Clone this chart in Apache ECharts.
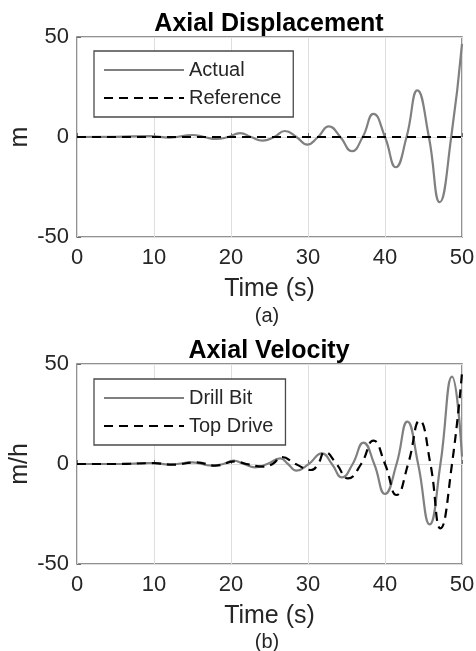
<!DOCTYPE html>
<html>
<head>
<meta charset="utf-8">
<script src="https://cdn.jsdelivr.net/npm/echarts@6/dist/echarts.min.js"></script>
<style>
  html, body { margin: 0; padding: 0; background: #fff; }
  #main { width: 476px; height: 651px; }
</style>
</head>
<body>
<div id="main"></div>
<script>
var myChart = echarts.init(document.getElementById('main'));

// (a) axial displacement
var tAct = [0, 5, 9.5, 12, 15, 16.5, 18.1, 19.6, 21.2, 22.6, 24.1, 25.6, 27.0, 28.5, 29.9, 31.3, 32.7, 34.2, 35.7, 37.1, 38.5, 40.0, 41.4, 42.8, 44.2, 45.7, 47.1, 48.6, 50];
var yAct = [0, 0.1, 0.4, -0.3, 1.0, 0, -1.0, 0, 1.9, 0, -1.8, 0, 3.0, 0, -3.8, 0, 5.3, 0, -7.1, 0, 11.6, 0, -15.1, 0, 23.3, 0, -32.6, 0, 46.6];
var tRef = [0, 50];
var yRef = [0, 0];

// (b) axial velocity
var tBit = [0, 5, 8, 10, 12, 15, 17.5, 19.0, 20.3, 21.7, 23.1, 24.7, 26.4, 27.4, 28.5, 30.1, 31.8, 33.1, 34.4, 35.8, 37.2, 38.6, 40.0, 41.5, 42.9, 44.3, 45.8, 47.2, 48.7, 50];
var yBit = [0, 0, 0.3, 0.5, -0.3, 0.8, -0.8, 0, 1.7, 0, -1.7, 0, 2.8, 0, -3.3, 0, 5.3, 0, -6.7, 0, 10.7, 0, -15.0, 0, 21.2, 0, -30.2, 0, 43.7, 3.7];
var tTop = [0, 5, 10, 12.5, 15.5, 18, 20.5, 22, 24.2, 25.4, 26.6, 28.4, 30.4, 31.3, 32.2, 33.7, 35.2, 36.9, 38.5, 40.0, 41.5, 43.0, 44.5, 45.9, 47.2, 48.7, 50];
var yTop = [0, 0, 0.4, -0.3, 0.8, -0.8, 1.3, 0, -1.3, 0, 3.5, 0, -3.0, 0, 6.0, 0, -7.2, 0, 11.7, 0, -15.5, 0, 21.7, 0, -32.2, 0, 45.5];

var xTicks = [0, 50, 10];   // min, max, interval
var yTicks = [-50, 50, 50];

function pairs(xs, ys) {
    return xs.map(function (x, i) { return [x, ys[i]]; });
}

var txt = '#262626';
var frame = '#6e6e6e';
var font = 'Liberation Sans, Arial, sans-serif';

function makeX(idx) {
    return {
        type: 'value', gridIndex: idx,
        min: xTicks[0], max: xTicks[1], interval: xTicks[2],
        name: 'Time (s)', nameLocation: 'middle', nameGap: 40, nameMoveOverlap: false,
        nameTextStyle: { fontSize: 25, color: txt, fontFamily: font },
        axisLine: { show: false },
        axisTick: { inside: true, length: 4, lineStyle: { color: frame } },
        axisLabel: { fontSize: 22, color: txt, margin: 10, fontFamily: font },
        splitLine: { show: true, lineStyle: { color: '#dedede', width: 1 } }
    };
}

function makeY(idx, name) {
    return {
        type: 'value', gridIndex: idx,
        min: yTicks[0], max: yTicks[1], interval: yTicks[2],
        name: name, nameLocation: 'middle', nameGap: 44, nameMoveOverlap: false,
        nameTextStyle: { fontSize: 25, color: txt, fontFamily: font },
        axisLine: { show: false },
        axisTick: { inside: true, length: 4, lineStyle: { color: frame } },
        axisLabel: { fontSize: 22, color: txt, margin: 8, fontFamily: font },
        splitLine: { show: true, lineStyle: { color: '#dedede', width: 1 } }
    };
}

function makeLegend(top, names) {
    return {
        left: 94, top: top, orient: 'vertical',
        data: names,
        itemWidth: 80, itemHeight: 14, itemGap: 8,
        padding: [9, 12, 9, 9],
        borderColor: '#4a4a4a', borderWidth: 1.3,
        backgroundColor: '#fff',
        itemStyle: { opacity: 0 },
        textStyle: { fontSize: 20, color: txt, fontFamily: font }
    };
}

var grayLine = { color: '#808080', width: 2.2, type: 'solid' };
var dashLine = { color: '#000', width: 2.2, type: [9, 6] };

var gridStyle = { show: true, borderColor: frame, borderWidth: 1.5, backgroundColor: '#fff', outerBoundsMode: 'none' };

var option = {
    animation: false,
    backgroundColor: '#fff',
    grid: [
        Object.assign({ left: 77, top: 37, width: 385, height: 200 }, gridStyle),
        Object.assign({ left: 77, top: 364, width: 385, height: 200 }, gridStyle)
    ],
    xAxis: [makeX(0), makeX(1)],
    yAxis: [makeY(0, 'm'), makeY(1, 'm/h')],
    legend: [
        makeLegend(51, ['Actual', 'Reference']),
        makeLegend(379, ['Drill Bit', 'Top Drive'])
    ],
    graphic: [
        { type: 'text', x: 269, y: 24, style: { text: 'Axial Displacement', align: 'center', verticalAlign: 'middle', font: 'bold 25px ' + font, fill: '#000' } },
        { type: 'text', x: 267, y: 316, style: { text: '(a)', align: 'center', verticalAlign: 'middle', font: '20px ' + font, fill: txt } },
        { type: 'text', x: 269, y: 351, style: { text: 'Axial Velocity', align: 'center', verticalAlign: 'middle', font: 'bold 25px ' + font, fill: '#000' } },
        { type: 'text', x: 267, y: 642, style: { text: '(b)', align: 'center', verticalAlign: 'middle', font: '20px ' + font, fill: txt } }
    ],
    series: [
        { name: 'Actual', type: 'line', xAxisIndex: 0, yAxisIndex: 0, data: pairs(tAct, yAct), smooth: 0.5, symbol: 'none', lineStyle: grayLine, itemStyle: { color: '#808080' } },
        { name: 'Reference', type: 'line', xAxisIndex: 0, yAxisIndex: 0, data: pairs(tRef, yRef), symbol: 'none', lineStyle: dashLine, itemStyle: { color: '#000' } },
        { name: 'Drill Bit', type: 'line', xAxisIndex: 1, yAxisIndex: 1, data: pairs(tBit, yBit), smooth: 0.5, symbol: 'none', lineStyle: grayLine, itemStyle: { color: '#808080' } },
        { name: 'Top Drive', type: 'line', xAxisIndex: 1, yAxisIndex: 1, data: pairs(tTop, yTop), smooth: 0.5, symbol: 'none', lineStyle: dashLine, itemStyle: { color: '#000' } }
    ]
};

myChart.setOption(option);
</script>
</body>
</html>
